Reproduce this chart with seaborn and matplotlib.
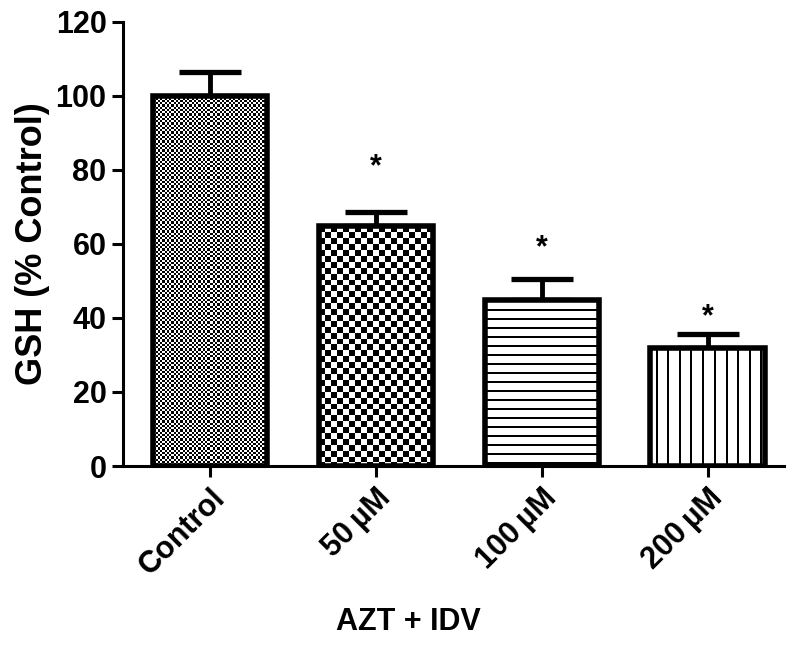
import numpy as np
import pandas as pd
import matplotlib
matplotlib.use("Agg")
import matplotlib.pyplot as plt
import seaborn as sns

# values
groups = ["Control", "50\u2009\u00b5M", "100\u2009\u00b5M", "200\u2009\u00b5M"]
gsh_mean = [100, 64.8, 44.8, 32.0]
gsh_sem = [6.5, 3.8, 5.6, 3.6]
star_y = [None, 82.2, 60.3, 41.6]

sns.set_style("ticks")
plt.rcParams["font.family"] = ["Liberation Sans", "DejaVu Sans"]
plt.rcParams["font.weight"] = "bold"
plt.rcParams["text.color"] = "black"
plt.rcParams["axes.labelcolor"] = "black"
plt.rcParams["xtick.color"] = "black"
plt.rcParams["ytick.color"] = "black"

df = pd.DataFrame({"group": groups, "gsh": gsh_mean})

fig = plt.figure(figsize=(8, 6.45), dpi=100)
ax = fig.add_axes([0.154, 0.2775, 0.826, 0.6885])

sns.barplot(data=df, x="group", y="gsh", color="white", width=0.69,
            edgecolor="black", linewidth=4, errorbar=None, ax=ax)
ax.errorbar(range(len(groups)), gsh_mean, yerr=[[0] * len(groups), gsh_sem],
            fmt="none", ecolor="black", elinewidth=3.5, capsize=22,
            capthick=3.8, zorder=1)

ax.set_xlim(-0.524, 3.46)
ax.set_ylim(0, 120)
ax.set_yticks(range(0, 121, 20))


def texture(kind, w, h):
    ii, jj = np.mgrid[0:h, 0:w]
    if kind == "fine":
        s = 2.25
        return ((np.floor(ii / s) + np.floor(jj / s)) % 2).astype(float)
    if kind == "coarse":
        s = 5.9
        return ((np.floor(ii / s) + np.floor(jj / s)) % 2).astype(float)
    if kind == "hline":
        return ((ii % 9) >= 2).astype(float)
    return (((jj + 6) % 11.5) >= 2).astype(float)


kinds = ["fine", "coarse", "hline", "vline"]
for bar, kind in zip(ax.patches, kinds):
    bar.set_facecolor("none")
    bar.set_zorder(3)
    x0, x1 = bar.get_x(), bar.get_x() + bar.get_width()
    y1 = bar.get_height()
    (px0, py0), (px1, py1) = ax.transData.transform([(x0, 0), (x1, y1)])
    w = int(round(px1 - px0))
    h = int(round(py1 - py0))
    img = texture(kind, w, h)
    ax.imshow(img, cmap="gray", vmin=0, vmax=1, interpolation="nearest",
              extent=[x0, x1, 0, y1], aspect="auto", zorder=2)

ax.set_xlim(-0.524, 3.46)
ax.set_ylim(0, 120)

for i, sy in enumerate(star_y):
    if sy is not None:
        ax.annotate("*", (i, sy), xytext=(0, -4), textcoords="offset points",
                    ha="center", va="center", fontsize=22, fontweight="bold")

ax.set_xlabel("AZT + IDV", fontsize=22, fontweight="bold")
ax.xaxis.set_label_coords(0.432, -0.318)
ax.set_ylabel("GSH (% Control)", fontsize=26, fontweight="bold", labelpad=4)
ax.set_xticks(range(len(groups)))
ax.set_xticklabels(groups, rotation=45, ha="right", rotation_mode="anchor",
                   fontsize=22, fontweight="bold")
for lab in ax.get_yticklabels():
    lab.set_fontsize(22)
    lab.set_fontweight("bold")

ax.tick_params(axis="both", length=8, width=2.2, color="black", pad=4)
sns.despine(ax=ax)
for side in ["left", "bottom"]:
    ax.spines[side].set_linewidth(2.2)
    ax.spines[side].set_color("black")

fig.savefig("out.png", dpi=100)
